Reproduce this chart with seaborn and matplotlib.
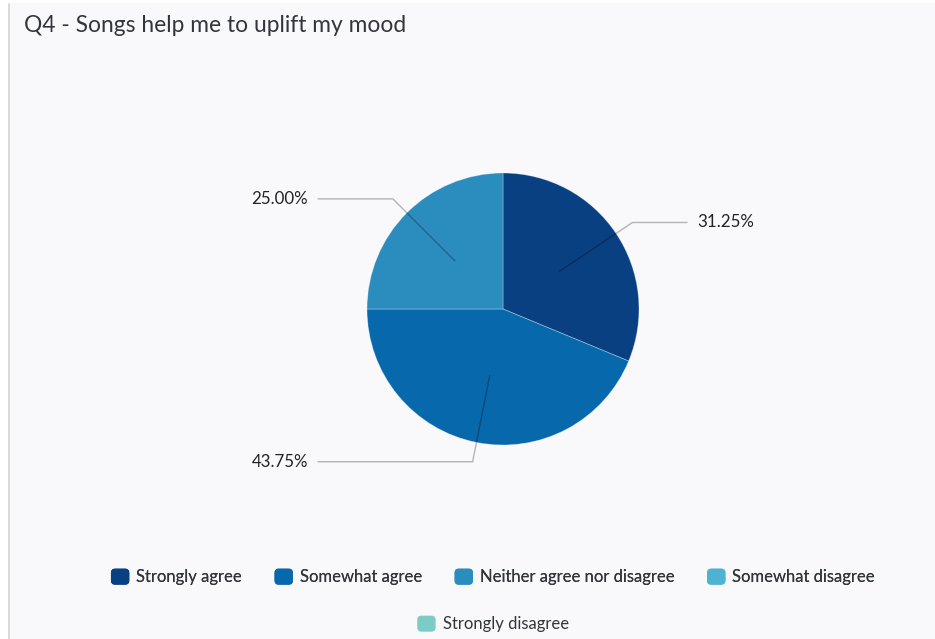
import matplotlib
matplotlib.use("Agg")
import matplotlib.pyplot as plt
import numpy as np
import seaborn as sns
from matplotlib.patches import FancyBboxPatch, Rectangle
from matplotlib.legend_handler import HandlerPatch
from matplotlib.lines import Line2D

# ---- data ----
title = "Q4 - Songs help me to uplift my mood"
categories = ["Strongly agree", "Somewhat agree", "Neither agree nor disagree",
              "Somewhat disagree", "Strongly disagree"]
shares = [31.25, 43.75, 25.00, 0.0, 0.0]
palette = ["#084081", "#0868ac", "#2b8cbe", "#4eb3d3", "#7bccc4"]

# ---- style ----
sns.set_theme(style="white")
plt.rcParams["font.family"] = ["Lato", "DejaVu Sans"]
colors = sns.color_palette(palette)

W, H = 935, 639
BG = "#f9f9fc"
TEXT = "#32363a"

fig = plt.figure(figsize=(W / 100, H / 100), dpi=100, facecolor=BG)
ax = fig.add_axes([0, 0, 1, 1])
ax.set_facecolor(BG)


def py(y):
    """Convert a top-down pixel row to the axes' bottom-up coordinate."""
    return H - y


# pie (only slices with a non-zero share get a wedge)
center = (503, py(309))
radius = 136
drawn = [(v, c) for v, c in zip(shares, colors) if v > 0]
wedges, _ = ax.pie([v for v, _ in drawn], colors=[c for _, c in drawn],
                   startangle=90, counterclock=False, center=center,
                   radius=radius, frame=True,
                   wedgeprops=dict(edgecolor=(1, 1, 1, 0.35), linewidth=0.6))

# leader lines and value labels
for w, (v, _) in zip(wedges, drawn):
    mid = np.deg2rad((w.theta1 + w.theta2) / 2)
    cx, cy = np.cos(mid), np.sin(mid)
    inner = (center[0] + 0.5 * radius * cx, center[1] + 0.5 * radius * cy)
    elbow = (center[0] + 1.145 * radius * cx, center[1] + 1.145 * radius * cy)
    end_x = 687 if cx > 0 else 318
    ax.add_line(Line2D([inner[0], elbow[0], end_x], [inner[1], elbow[1], elbow[1]],
                       color=(0, 0, 0, 0.28), linewidth=1.0, zorder=5))
    if cx > 0:
        ax.text(end_x + 10, elbow[1], f"{v:.2f}%", ha="left", va="center",
                fontsize=12.2, color="#222222", zorder=6)
    else:
        ax.text(end_x - 10, elbow[1], f"{v:.2f}%", ha="right", va="center",
                fontsize=12.2, color="#222222", zorder=6)

ax.set_xlim(0, W)
ax.set_ylim(0, H)
ax.axis("off")

# panel frame: white margin strips and the thin left rule
ax.add_patch(Rectangle((0, py(3)), W, 3, facecolor="white", edgecolor="none", zorder=1))
ax.add_patch(Rectangle((0, 0), 8, H, facecolor="white", edgecolor="none", zorder=1))
ax.add_line(Line2D([8.5, 8.5], [0, py(4)], color="#d4d4d6", linewidth=1.2, zorder=2))

# title
ax.text(24, py(26), title, ha="left", va="center", fontsize=16.4, color=TEXT)


# rounded legend swatches
class RoundedSwatch(HandlerPatch):
    def create_artists(self, legend, orig_handle, xdescent, ydescent,
                       width, height, fontsize, trans):
        p = FancyBboxPatch((-xdescent, -ydescent), width, height,
                           boxstyle="round,pad=0,rounding_size=3",
                           facecolor=orig_handle.get_facecolor(),
                           edgecolor="none", transform=trans)
        return [p]


handles = [Rectangle((0, 0), 1, 1, facecolor=c) for c in colors]
leg_kw = dict(frameon=False, fontsize=12, labelcolor=TEXT,
              handlelength=1.1, handleheight=1.1, handletextpad=0.42,
              columnspacing=1.95, loc="center",
              handler_map={Rectangle: RoundedSwatch()})
leg1 = fig.legend(handles[:4], categories[:4], ncol=4,
                  bbox_to_anchor=(493 / W, 1 - 577 / H), **leg_kw)
leg2 = fig.legend(handles[4:], categories[4:], ncol=1,
                  bbox_to_anchor=(493 / W, 1 - 624 / H), **leg_kw)
fig.add_artist(leg1)

fig.savefig("out.png", dpi=100, facecolor=BG)
